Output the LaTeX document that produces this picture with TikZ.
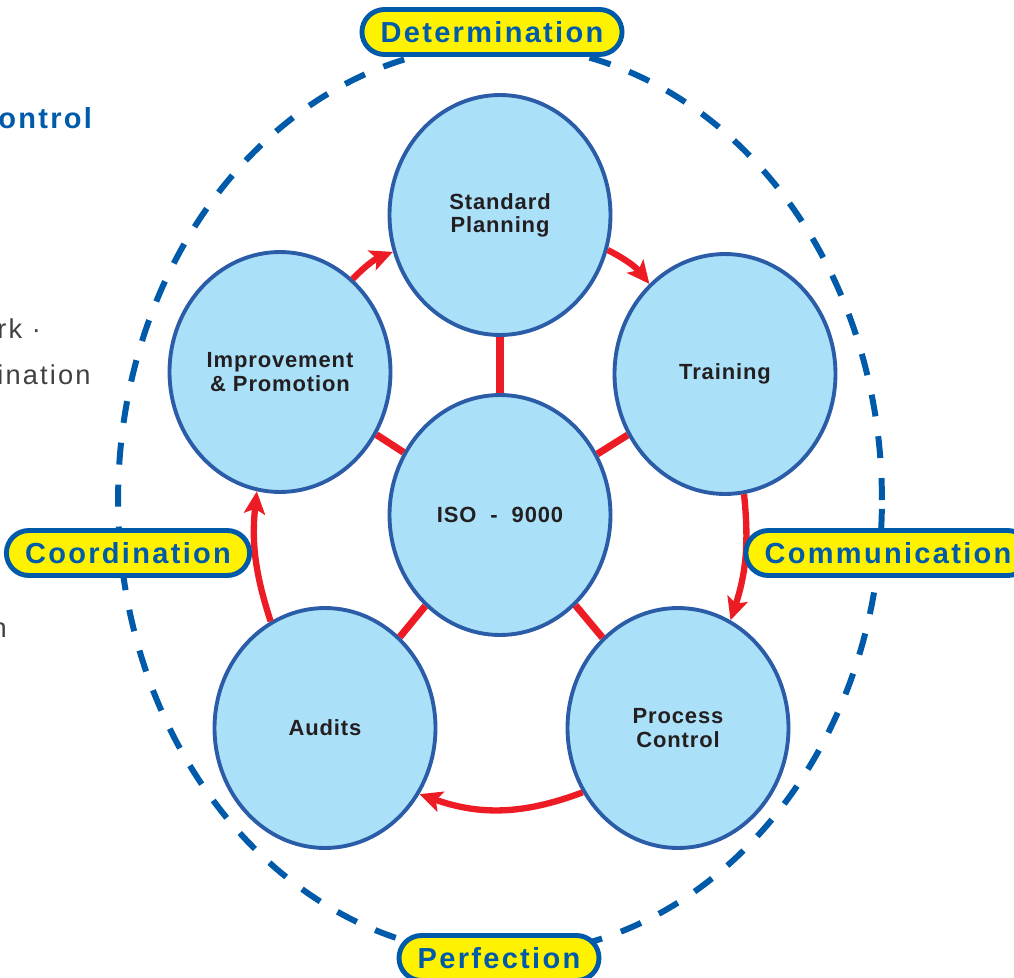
\documentclass[tikz,border=0pt]{standalone}
\usepackage{fontspec}
\setmainfont{Liberation Sans}
\newfontfamily\widesans[LetterSpace=4]{Liberation Sans}
\newfontfamily\greysans[LetterSpace=8]{Liberation Sans}
\newfontfamily\tagsans[LetterSpace=8]{Liberation Sans}
\usetikzlibrary{positioning, shapes.geometric, shapes.misc, arrows.meta}
\definecolor{bubfill}{RGB}{171,224,249}
\definecolor{bubline}{RGB}{43,92,168}
\definecolor{isored}{RGB}{237,28,36}
\definecolor{tagblue}{RGB}{0,90,170}
\definecolor{tagyellow}{RGB}{255,242,0}
\definecolor{ink}{RGB}{35,31,32}
\definecolor{greytext}{RGB}{64,64,64}

\begin{document}
\begin{tikzpicture}[x=0.02cm, y=0.02cm,
    bub/.style={ellipse, draw=bubline, fill=bubfill, line width=2.2pt, minimum width=4.42cm, minimum height=4.8cm, inner sep=0pt, align=center, text=ink, font=\widesans\bfseries\fontsize{12.5}{13.2}\selectfont},
    tag/.style={rounded rectangle, draw=tagblue, fill=tagyellow, line width=2.8pt, minimum height=0.9cm, inner xsep=0.32cm, inner ysep=0pt, text=tagblue, font=\tagsans\bfseries\fontsize{16.5}{18}\selectfont},
    spoke/.style={isored, line width=4pt},
    arr/.style={isored, line width=3.6pt, -{Stealth[length=0.45cm, width=0.42cm, inset=0.1cm]}},
    side/.style={text=greytext, font=\greysans\fontsize{15.5}{17}\selectfont, inner sep=0pt, anchor=base west}]
    \useasboundingbox (0,0) rectangle (1014,-977);
    \clip (0,0) rectangle (1014,-977);
    % bits of the page text, cut at the left edge
    \node[inner sep=0pt, anchor=base west, text=tagblue, font=\tagsans\bfseries\fontsize{16.5}{18}\selectfont] (hd) at (-2,-128) {ontrol};
    \node[side] (s1) at (-3,-338) {rk ·};
    \node[side] (s2) at (-3,-384) {ination};
    \node[side, anchor=base east] (s3) at (7,-637) {n};
    % dashed ring
    \draw[tagblue, line width=3.4pt, dash pattern=on 0.44cm off 0.4cm] (500,-500) ellipse [x radius=7.64cm, y radius=9.1cm];
    % bubbles
    \node[bub] (iso) at (500,-515) {ISO\ \ -\ \ 9000};
    \node[bub] (sp) at (500,-215) {Standard\\Planning};
    \node[bub] (tr) at (725,-374) {Training};
    \node[bub] (pc) at (678,-728) {Process\\Control};
    \node[bub] (au) at (325,-728) {Audits};
    \node[bub] (im) at (280,-372) {Improvement\\\& Promotion};
    \foreach \n in {sp,tr,pc,au,im}
        \draw[spoke] (iso) -- (\n);
    % cycle
    \draw[arr] (sp.-18) to[bend left=12] (tr.130);
    \draw[arr] (tr.-81) to[bend left=12] (pc.64);
    \draw[arr] (pc.214) to[bend left=20] (au.-35);
    \draw[arr] (au.117) to[bend left=12] (im.-101);
    \draw[arr] (im.52) to[bend left=12] (sp.199);
    % labels on the ring
    \node[tag] (det) at (492,-32) {Determination};
    \node[tag] (coo) at (128,-553) {Coordination};
    \node[tag] (com) at (888,-553) {Communication};
    \node[tag] (per) at (499,-958) {Perfection};
\end{tikzpicture}
\end{document}
